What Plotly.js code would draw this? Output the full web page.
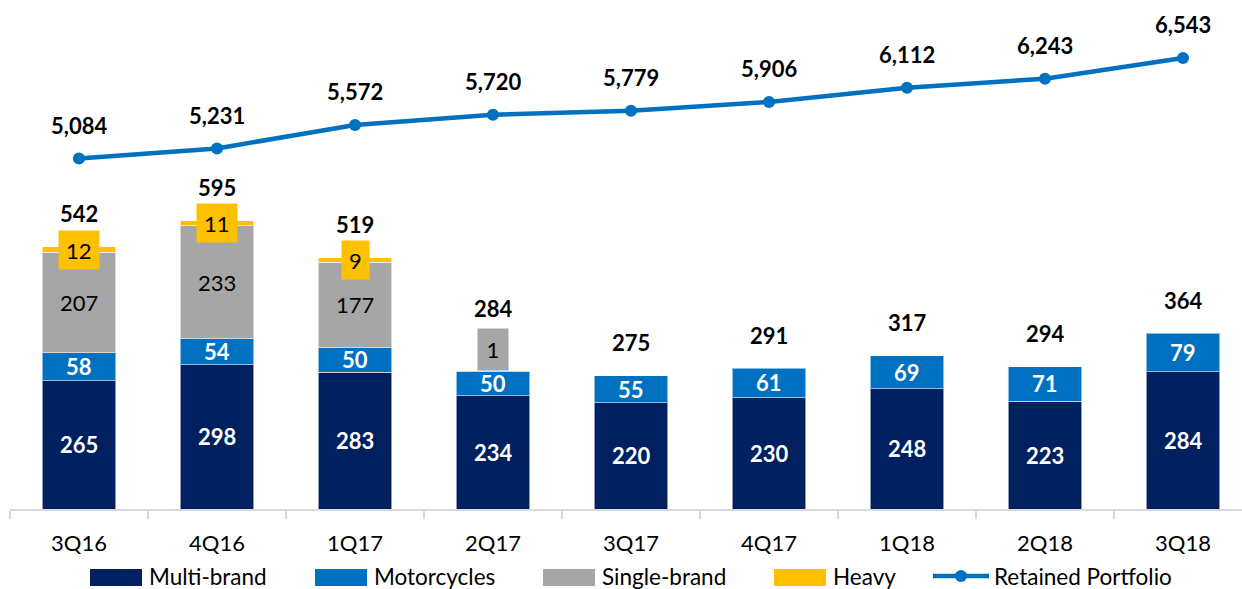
<!DOCTYPE html>
<html><head><meta charset="utf-8">
<script src="https://cdn.plot.ly/plotly-3.0.1.min.js"></script>
<style>html,body{margin:0;padding:0;background:#fff;}#chart{width:1242px;height:589px;}</style>
</head><body><div id="chart"></div>
<script>
// ---- data ----
const categories = ['3Q16','4Q16','1Q17','2Q17','3Q17','4Q17','1Q18','2Q18','3Q18'];
const multiBrand  = [265, 298, 283, 234, 220, 230, 248, 223, 284];
const motorcycles = [58, 54, 50, 50, 55, 61, 69, 71, 79];
const singleBrand = [207, 233, 177, 1, null, null, null, null, null];
const heavy       = [12, 11, 9, null, null, null, null, null, null];
const totals      = [542, 595, 519, 284, 275, 291, 317, 294, 364];
const retained    = [5084, 5231, 5572, 5720, 5779, 5906, 6112, 6243, 6543];
const seriesNames = ['Multi-brand', 'Motorcycles', 'Single-brand', 'Heavy', 'Retained Portfolio'];

// ---- style ----
const FONT = 'Lato, "Open Sans", sans-serif';
const C_MULTI = '#002060', C_MOTO = '#0070C0', C_SINGLE = '#A6A6A6', C_HEAVY = '#FFC000', C_LINE = '#0070C0';
const segLine = {color: 'rgba(255,255,255,0.55)', width: 1};
const BW = 0.535;

const traces = [
  {type:'bar', name:seriesNames[0], x:categories, y:multiBrand, marker:{color:C_MULTI, line:segLine}, width:BW, hoverinfo:'skip'},
  {type:'bar', name:seriesNames[1], x:categories, y:motorcycles, marker:{color:C_MOTO, line:segLine}, width:BW, hoverinfo:'skip'},
  {type:'bar', name:seriesNames[2], x:categories, y:singleBrand, marker:{color:C_SINGLE, line:segLine}, width:BW, hoverinfo:'skip'},
  {type:'bar', name:seriesNames[3], x:categories, y:heavy, marker:{color:C_HEAVY, line:segLine}, width:BW, hoverinfo:'skip'},
  {type:'scatter', mode:'lines+markers', name:seriesNames[4], x:categories, y:retained, yaxis:'y2',
   line:{color:C_LINE, width:4.5}, marker:{color:C_LINE, size:12}, hoverinfo:'skip'}
];

// ---- labels ----
const fmt = v => v.toLocaleString('en-US');
const ann = [];
categories.forEach((c, i) => {
  let base = 0;
  let topShift = 33;
  ann.push({x:c, y:base + multiBrand[i]/2, xref:'x', yref:'y', showarrow:false,
    text:'<b>'+fmt(multiBrand[i])+'</b>', font:{family:FONT, size:22, color:'#fff'}});
  base += multiBrand[i];
  ann.push({x:c, y:base + motorcycles[i]/2, xref:'x', yref:'y', showarrow:false,
    text:'<b>'+fmt(motorcycles[i])+'</b>', font:{family:FONT, size:22, color:'#fff'}});
  base += motorcycles[i];
  if (singleBrand[i] != null) {
    if (singleBrand[i] >= 15) {
      ann.push({x:c, y:base + singleBrand[i]/2, xref:'x', yref:'y', showarrow:false,
        text:fmt(singleBrand[i]), font:{family:FONT, size:22, color:'#000'}});
    } else {
      ann.push({x:c, y:base, xref:'x', yref:'y', showarrow:false, yanchor:'middle', yshift:22,
        text:fmt(singleBrand[i]), font:{family:FONT, size:22, color:'#000'},
        bgcolor:C_SINGLE, borderpad:6, height:29, width:18});
      topShift = 63;
    }
    base += singleBrand[i];
  }
  if (heavy[i] != null) {
    ann.push({x:c, y:base + heavy[i]/2, xref:'x', yref:'y', showarrow:false,
      text:fmt(heavy[i]), font:{family:FONT, size:22, color:'#000'},
      bgcolor:C_HEAVY, borderpad:7, height:24});
    base += heavy[i];
  }
  ann.push({x:c, y:base, xref:'x', yref:'y', showarrow:false, yanchor:'middle', yshift:topShift,
    text:'<b>'+fmt(totals[i])+'</b>', font:{family:FONT, size:22, color:'#000'}});
  ann.push({x:c, y:retained[i], xref:'x', yref:'y2', showarrow:false, yanchor:'middle', yshift:33,
    text:'<b>'+fmt(retained[i])+'</b>', font:{family:FONT, size:22, color:'#000'}});
});

// ---- custom legend (layout chrome, pixel-placed) ----
const W = 1242, H = 589, ML = 10, MB = 80, PW = W - ML, PH = H - MB;
const px = v => (v - ML) / PW;
const py = v => (PH - v) / PH;
const legendX = [90, 315, 543, 774, 933];
const legendColors = [C_MULTI, C_MOTO, C_SINGLE, C_HEAVY, C_LINE];
const LY0 = 569, LY1 = 586, LYC = 576;
const shapes = [];
seriesNames.forEach((n, k) => {
  const x0 = legendX[k];
  if (k < 4) {
    shapes.push({type:'rect', xref:'paper', yref:'paper', x0:px(x0), x1:px(x0+52), y0:py(LY1), y1:py(LY0),
      fillcolor:legendColors[k], line:{width:0}});
    ann.push({xref:'paper', yref:'paper', x:px(x0+57), y:py(LYC), xanchor:'left', yanchor:'middle', showarrow:false,
      text:n, font:{family:FONT, size:22.5, color:'#000'}});
  } else {
    shapes.push({type:'line', xref:'paper', yref:'paper', x0:px(x0), x1:px(x0+56), y0:py(LYC), y1:py(LYC),
      line:{color:C_LINE, width:4.5}});
    shapes.push({type:'circle', xref:'paper', yref:'paper', x0:px(x0+22), x1:px(x0+34), y0:py(LYC+6), y1:py(LYC-6),
      fillcolor:C_LINE, line:{width:0}});
    ann.push({xref:'paper', yref:'paper', x:px(x0+59), y:py(LYC), xanchor:'left', yanchor:'middle', showarrow:false,
      text:n, font:{family:FONT, size:22.5, color:'#000'}});
  }
});

const layout = {
  width: W, height: H,
  margin: {l: ML, r: 0, t: 0, b: MB, pad: 0},
  paper_bgcolor: '#fff', plot_bgcolor: '#fff',
  barmode: 'stack', bargap: 0.46,
  showlegend: false,
  font: {family: FONT, size: 22, color: '#000'},
  xaxis: {type:'category', range:[-0.5, -0.5 + PW/138], showgrid:false, zeroline:false,
    showline:true, linecolor:'#d9d9d9', linewidth:2,
    ticks:'outside', tickson:'boundaries', ticklen:8, tickcolor:'#d9d9d9', tickwidth:2,
    tickfont:{family:FONT, size:22, color:'#000'}, ticklabelstandoff:14, fixedrange:true},
  yaxis: {range:[0, PH/0.484], visible:false, fixedrange:true},
  yaxis2: {range:[0, PH/0.06893], overlaying:'y', side:'right', visible:false, fixedrange:true},
  annotations: ann,
  shapes: shapes
};

Plotly.newPlot('chart', traces, layout, {displayModeBar:false, staticPlot:true});
</script>
</body></html>
